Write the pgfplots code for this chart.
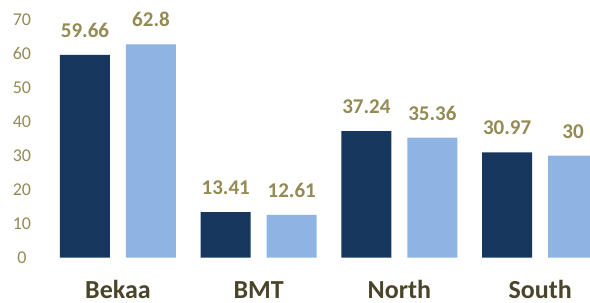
\documentclass[border=0pt]{standalone}
\usepackage{pgfplots}
\pgfplotsset{compat=1.18}
\usepackage{fontspec}
\setmainfont{Carlito}
\definecolor{navy}{HTML}{17375E}
\definecolor{lightb}{HTML}{8DB4E2}
\definecolor{olive}{HTML}{948A54}
\definecolor{darkolive}{HTML}{4A452A}
\begin{document}
\begin{tikzpicture}
\path[use as bounding box] (-59pt,-22.65pt) rectangle (236pt,128.85pt);
\clip (-59pt,-22.65pt) rectangle (236pt,128.85pt);
\begin{axis}[
  anchor=origin, at={(0,0)},
  x=70.35pt, y=1.699pt,
  xmin=-0.6, xmax=3.36, ymin=0, ymax=70,
  ybar=8pt, bar width=25pt,
  axis line style={draw=none},
  major tick length=0pt,
  xtick={0,1,2,3},
  xticklabels={Bekaa,BMT,North,South},
  ytick={0,10,...,70},
  /pgf/number format/assume math mode=true,
  yticklabel style={font=\fontsize{9}{10}\selectfont, text=olive, anchor=center, xshift=-5.8pt},
  xticklabel style={font=\fontsize{13}{14}\selectfont\bfseries, text=darkolive, anchor=base, yshift=-20.5pt, inner sep=0pt},
  nodes near coords={\pgfmathprintnumber[fixed,precision=2]{\pgfplotspointmeta}},
  every node near coord/.append style={font=\fontsize{10.5}{12}\selectfont\bfseries, text=olive, anchor=base, yshift=8.75pt, /pgf/number format/assume math mode=true},
  clip=false,
]
\addplot[fill=navy, draw=none] coordinates {(0,59.66) (1,13.41) (2,37.24) (3,30.97)};
\addplot[fill=lightb, draw=none] coordinates {(0,62.8) (1,12.61) (2,35.36) (3,30)};
\end{axis}
\end{tikzpicture}
\end{document}
